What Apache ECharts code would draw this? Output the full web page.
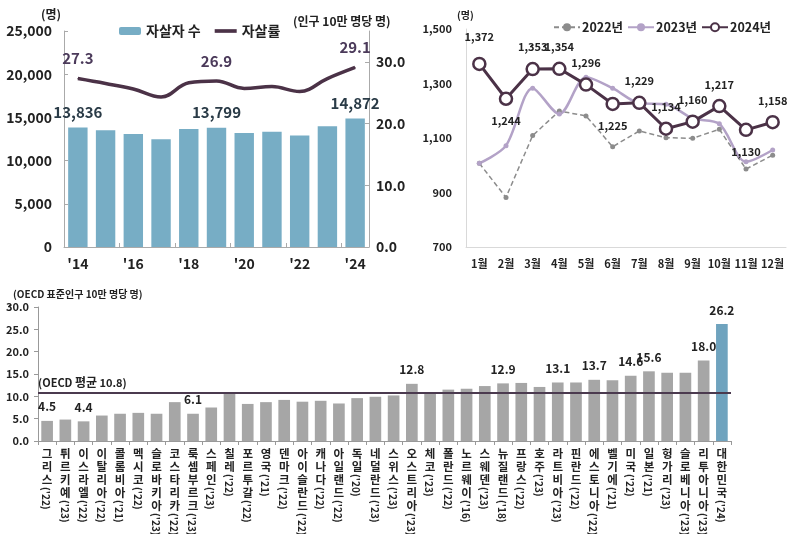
<!DOCTYPE html>
<html>
<head>
<meta charset="utf-8">
<script src="https://cdn.jsdelivr.net/npm/echarts@6/dist/echarts.min.js"></script>
<style>
  html, body { margin: 0; padding: 0; background: #fff; }
  #main { width: 800px; height: 534px; }
</style>
</head>
<body>
<div id="main"></div>
<script>
// 연도별 자살자 수 / 자살률
var years = ["'14", "'15", "'16", "'17", "'18", "'19", "'20", "'21", "'22", "'23", "'24"];
var suicideCount = [13836, 13513, 13092, 12463, 13670, 13799, 13195, 13352, 12906, 13978, 14872];
var suicideRate = [27.3, 26.5, 25.6, 24.3, 26.6, 26.9, 25.7, 26.0, 25.2, 27.3, 29.1];
var yearLabelIdx = [0, 5, 10];

// 월별 자살자 수
var months = ['1월', '2월', '3월', '4월', '5월', '6월', '7월', '8월', '9월', '10월', '11월', '12월'];
var m2022 = [1007, 882, 1109, 1199, 1181, 1068, 1126, 1101, 1099, 1132, 986, 1037];
var m2023 = [1007, 1072, 1283, 1188, 1323, 1283, 1228, 1224, 1172, 1152, 1013, 1056];
var m2024 = [1372, 1244, 1353, 1354, 1296, 1225, 1229, 1134, 1160, 1217, 1130, 1158];
var m2024LabelPos = ['top', 'bottom', 'top', 'top', 'top', 'bottom', 'top', 'top', 'top', 'top', 'bottom', 'top'];

// OECD 국가별 자살률
var countries = ['그리스', '튀르키예', '이스라엘', '이탈리아', '콜롬비아', '멕시코', '슬로바키아', '코스타리카', '룩셈부르크', '스페인',
  '칠레', '포르투갈', '영국', '덴마크', '아이슬란드', '캐나다', '아일랜드', '독일', '네덜란드', '스위스',
  '오스트리아', '체코', '폴란드', '노르웨이', '스웨덴', '뉴질랜드', '프랑스', '호주', '라트비아', '핀란드',
  '에스토니아', '벨기에', '미국', '일본', '헝가리', '슬로베니아', '리투아니아', '대한민국'];
var countryYears = ["'22", "'23", "'22", "'22", "'21", "'22", "'23", "'22", "'23", "'23",
  "'22", "'22", "'21", "'22", "'22", "'22", "'22", "'20", "'23", "'23",
  "'23", "'23", "'22", "'16", "'23", "'18", "'22", "'23", "'23", "'22",
  "'22", "'21", "'22", "'21", "'23", "'23", "'23", "'24"];
var oecdRate = [4.5, 4.8, 4.4, 5.7, 6.1, 6.3, 6.1, 8.7, 6.1, 7.5,
  10.7, 8.3, 8.7, 9.2, 8.8, 9.0, 8.4, 9.6, 9.9, 10.2,
  12.8, 10.8, 11.5, 11.7, 12.3, 12.9, 13.0, 12.1, 13.1, 13.1,
  13.7, 13.6, 14.6, 15.6, 15.3, 15.3, 18.0, 26.2];
var oecdLabelIdx = [0, 2, 8, 20, 25, 28, 30, 32, 33, 36, 37];
var oecdAverage = 10.8;

var FONT = '"Noto Sans CJK KR", "Noto Sans", sans-serif';
var BAR_BLUE = '#77adc5';
var DARK = '#4b3247';
var LIGHT = '#b3a2c7';
var GRAY_DASH = '#8c8c8c';

var myChart = echarts.init(document.getElementById('main'));

function fmtComma(v) {
  return String(v).replace(/\B(?=(\d{3})+(?!\d))/g, ',');
}

var option = {
  backgroundColor: '#fff',
  textStyle: { fontFamily: FONT },
  animation: false,
  title: [
    { text: '(명)', left: 36, top: 3, textStyle: { fontSize: 12, fontWeight: 'bold', color: '#222', fontFamily: FONT } },
    { text: '(인구 10만 명당 명)', left: 288, top: 10, textStyle: { fontSize: 12, fontWeight: 'bold', color: '#222', fontFamily: FONT } },
    { text: '(명)', left: 452, top: 5, textStyle: { fontSize: 10, fontWeight: 'bold', color: '#222', fontFamily: FONT } },
    { text: '(OECD 표준인구 10만 명당 명)', left: 8, top: 284, textStyle: { fontSize: 10, fontWeight: 'bold', color: '#222', fontFamily: FONT } }
  ],
  legend: [
    {
      data: ['자살자 수', { name: '자살률', icon: 'path://M0,0 H30 V5 H0 Z' }],
      left: 114, top: 19,
      itemWidth: 22, itemHeight: 8, itemGap: 14,
      textStyle: { fontSize: 14, fontWeight: 'bold', color: '#222', fontFamily: FONT }
    },
    {
      data: ['2022년', '2023년', '2024년'],
      left: 548, top: 16, width: 252,
      itemWidth: 26, itemHeight: 10, itemGap: 4,
      textStyle: { fontSize: 12.5, fontWeight: 'bold', color: '#222', fontFamily: FONT, padding: [0, 0, 0, -3] }
    }
  ],
  grid: [
    { left: 64, width: 305, top: 31, bottom: 287 },
    { left: 466, width: 320, top: 29, bottom: 287 },
    { left: 38, width: 693, top: 307, bottom: 93 }
  ],
  xAxis: [
    {
      type: 'category', gridIndex: 0, data: years,
      axisLine: { lineStyle: { color: '#aaa' } },
      axisTick: { show: true, inside: true, interval: 1, length: 4, lineStyle: { color: '#aaa' } },
      axisLabel: { interval: 1, fontSize: 14, fontWeight: 'bold', color: '#222', margin: 10 }
    },
    {
      type: 'category', gridIndex: 1, data: months,
      axisLine: { lineStyle: { color: '#d9d9d9' } },
      axisTick: { show: false },
      axisLabel: { interval: 0, fontSize: 11, fontWeight: 'bold', color: '#222', margin: 11 }
    },
    {
      type: 'category', gridIndex: 2, data: countries,
      axisLine: { lineStyle: { color: '#999' } },
      axisTick: { show: true, length: 4, lineStyle: { color: '#999' } },
      axisLabel: {
        interval: 0, fontSize: 11.5, fontWeight: 'bold', color: '#222', lineHeight: 13, margin: 6,
        formatter: function (v) { return v.split('').join('\n'); }
      }
    }
  ],
  yAxis: [
    {
      type: 'value', gridIndex: 0, min: 0, max: 25000, interval: 5000,
      splitLine: { show: false },
      axisLine: { show: true, lineStyle: { color: '#aaa' } },
      axisTick: { show: true, inside: true, length: 4, lineStyle: { color: '#aaa' } },
      axisLabel: { fontSize: 14, fontWeight: 'bold', color: '#222', margin: 12, formatter: fmtComma }
    },
    {
      type: 'value', gridIndex: 0, position: 'right', min: 0, max: 35, interval: 10,
      splitLine: { show: false },
      axisLine: { show: true, lineStyle: { color: '#aaa' } },
      axisTick: { show: true, inside: true, length: 4, lineStyle: { color: '#aaa' } },
      axisLabel: {
        fontSize: 14, fontWeight: 'bold', color: '#222', margin: 7, showMaxLabel: false,
        formatter: function (v) { return v > 30 ? '' : v.toFixed(1); }
      }
    },
    {
      type: 'value', gridIndex: 1, min: 700, max: 1500, interval: 100,
      splitLine: { show: false },
      axisLine: { show: true, lineStyle: { color: '#d9d9d9' } },
      axisTick: { show: false },
      axisLabel: {
        fontSize: 11, fontWeight: 'bold', color: '#222', margin: 14,
        formatter: function (v) { return (v - 700) % 200 === 0 ? fmtComma(v) : ''; }
      }
    },
    {
      type: 'value', gridIndex: 2, min: 0, max: 30, interval: 5,
      splitLine: { show: false },
      axisLine: { show: true, lineStyle: { color: '#999' } },
      axisTick: { show: true, length: 4, lineStyle: { color: '#999' } },
      axisLabel: { fontSize: 11, fontWeight: 'bold', color: '#222', margin: 9, formatter: function (v) { return v.toFixed(1); } }
    }
  ],
  series: [
    {
      name: '자살자 수', type: 'bar', xAxisIndex: 0, yAxisIndex: 0, barWidth: '70%',
      itemStyle: { color: BAR_BLUE },
      data: suicideCount.map(function (v, i) {
        return {
          value: v,
          label: {
            show: yearLabelIdx.indexOf(i) >= 0, position: 'top', distance: 8,
            fontSize: 15, fontWeight: 'bold', color: '#2a3b47', formatter: function (p) { return fmtComma(p.value); }
          }
        };
      })
    },
    {
      name: '자살률', type: 'line', xAxisIndex: 0, yAxisIndex: 1, smooth: 0.4,
      showSymbol: true, symbol: 'circle', symbolSize: 1,
      lineStyle: { color: DARK, width: 3.5 },
      itemStyle: { color: DARK },
      data: suicideRate.map(function (v, i) {
        return {
          value: v,
          label: {
            show: yearLabelIdx.indexOf(i) >= 0, position: 'top', distance: 12,
            fontSize: 15, fontWeight: 'bold', color: '#4b3a5a', formatter: function (p) { return p.value.toFixed(1); }
          }
        };
      })
    },
    {
      name: '2022년', type: 'line', xAxisIndex: 1, yAxisIndex: 2,
      symbol: 'circle', symbolSize: 5,
      lineStyle: { color: GRAY_DASH, width: 1.5, type: [5, 3] },
      itemStyle: { color: GRAY_DASH },
      data: m2022
    },
    {
      name: '2023년', type: 'line', xAxisIndex: 1, yAxisIndex: 2, smooth: 0.3,
      symbol: 'circle', symbolSize: 5,
      lineStyle: { color: LIGHT, width: 2.5 },
      itemStyle: { color: LIGHT },
      data: m2023
    },
    {
      name: '2024년', type: 'line', xAxisIndex: 1, yAxisIndex: 2,
      symbol: 'circle', symbolSize: 12,
      lineStyle: { color: DARK, width: 3 },
      itemStyle: { color: '#fff', borderColor: DARK, borderWidth: 2.5 },
      data: m2024.map(function (v, i) {
        return {
          value: v,
          label: {
            show: true, position: m2024LabelPos[i], distance: i === 0 ? 14 : 9,
            fontSize: 11, fontWeight: 'bold', color: '#222', formatter: function (p) { return fmtComma(p.value); }
          }
        };
      })
    },
    {
      name: 'OECD', type: 'bar', xAxisIndex: 2, yAxisIndex: 3, barWidth: '64%',
      data: oecdRate.map(function (v, i) {
        return {
          value: v,
          itemStyle: { color: i === oecdRate.length - 1 ? '#6fa3be' : '#a6a6a6' },
          label: {
            show: oecdLabelIdx.indexOf(i) >= 0, position: 'top', distance: 8,
            fontSize: 12, fontWeight: 'bold', color: '#222', formatter: function (p) { return p.value.toFixed(1); }
          }
        };
      }),
      markLine: {
        silent: true, symbol: 'none',
        lineStyle: { color: '#4b3a4f', width: 2, type: 'solid' },
        label: {
          show: true, position: 'insideStartTop', distance: [0, 4],
          fontSize: 11, fontWeight: 'bold', color: '#222',
          formatter: '(OECD {b|평균} ' + oecdAverage.toFixed(1) + ')',
          rich: { b: { fontSize: 12, fontWeight: 'bold', color: '#222' } }
        },
        data: [{ yAxis: oecdAverage }]
      },
      z: 2
    },
    {
      name: 'yearSuffix', type: 'custom', xAxisIndex: 2, yAxisIndex: 3, clip: false, silent: true,
      renderItem: function (params, api) {
        var idx = api.value(0);
        var p = api.coord([idx, 0]);
        var n = countries[idx].length;
        return {
          type: 'text',
          x: p[0] - 1,
          y: p[1] + 7 + n * 13,
          rotation: -Math.PI / 2,
          style: {
            text: '(' + countryYears[idx] + ')',
            fill: '#222',
            font: 'bold 10px ' + FONT,
            align: 'left',
            verticalAlign: 'middle'
          }
        };
      },
      data: countries.map(function (c, i) { return [i, 0]; }),
      z: 5
    }
  ]
};

option && myChart.setOption(option);
</script>
</body>
</html>
